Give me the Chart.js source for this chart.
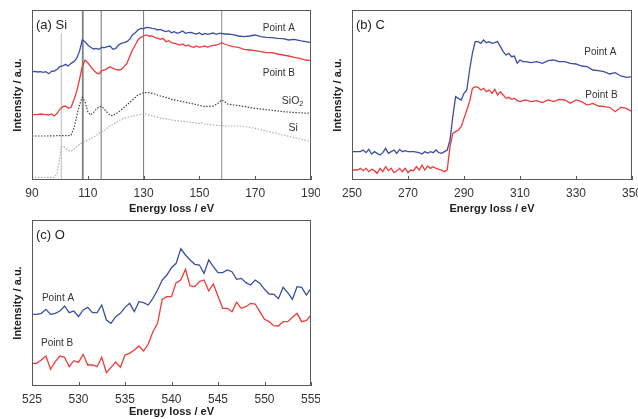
<!DOCTYPE html>
<html lang="en">
<head>
<meta charset="UTF-8">
<title>EELS spectra: Si, C, O edges</title>
<script src="https://cdn.jsdelivr.net/npm/chart.js@4"></script>
<style>
  body { margin: 0; background: #fff; overflow: hidden; }
  canvas { position: absolute; }
</style>
</head>
<body>
<canvas id="chartSi" width="320" height="220" style="left:0;top:0"></canvas>
<canvas id="chartC" width="318" height="220" style="left:320px;top:0"></canvas>
<canvas id="chartO" width="320" height="209" style="left:0;top:210px"></canvas>
<script>
// (a) Si L-edge
const siEnergyA = [90,91,92,93,94,95,96,97,98,99,100,101,102,103,104,105,106,107,108,109,110,111,112,113,114,115,116,117,118,119,120,121,122,123,124,125,126,127,128,129,130,131,132,133,134,135,136,137,138,139,140,141,142,143,144,145,146,147,148,149,150,151,152,153,154,155,156,157,158,159,160,162,164,166,168,170,172,174,176,178,180,182,184,186,188,190];
const siPointA = [325,326,324,325,323,325,319,326,327,332,340,342,347,342,350,355,365,385,420,415,405,398,393,395,392,398,397,400,402,392,395,405,410,412,415,422,435,442,450,455,454,458,457,455,454,450,452,448,445,448,442,445,440,443,447,440,442,443,440,438,442,436,440,437,439,441,437,440,440,438,438,436,432,430,432,435,430,428,427,425,424,420,422,418,415,412];
const siEnergyB = siEnergyA;
const siPointB = [197,196,196,198,197,196,195,198,192,200,212,220,222,215,218,240,265,300,340,360,352,340,330,322,318,328,330,335,340,335,332,330,332,340,350,370,390,405,420,428,432,435,432,432,428,425,422,425,415,418,412,410,408,405,408,402,405,400,398,402,398,400,402,398,402,404,405,408,412,408,405,400,398,392,390,388,385,382,382,378,375,372,368,365,360,358];
const siEnergyOx = [90,95,100,103,104,105,106,107,108,109,110,111,112,113,114,115,116,117,118,119,120,122,124,126,128,130,132,134,136,138,140,144,148,152,155,157,158,159,160,165,170,175,180,185,190];
const siO2Ref = [132,132,133,133,135,155,190,225,248,235,205,195,202,212,220,220,212,202,194,193,198,210,225,240,255,262,262,258,252,248,242,235,228,220,222,232,240,235,228,222,215,210,205,202,200];
const siEnergyEl = [90,98,99,100,100.5,101,102,103,104,105,106,108,110,112,114,116,118,120,122,124,126,128,130,132,135,140,145,150,151,152,155,160,165,170,175,180,185,190];
const siRef = [8,8,20,70,100,102,95,88,87,92,100,112,120,128,140,150,162,172,182,188,192,195,198,195,188,180,175,170,172,168,165,162,162,155,145,135,125,115];
const siMarkers = [100.5, 108.2, 114.8, 130, 158];

// (b) C K-edge
const cEnergyA = [250,253,254,255,256,257,258,259,260,261,262,263,264,265,266,267,268,269,270,272,274,275,276,277,278,279,280,281,282,283,284,285,286,287,288,289,290,291,292,293,294,295,296,297,298,299,300,301,302,303,304,305,306,307,308,309,310,311,312,314,316,318,320,322,324,326,328,330,332,334,336,338,340,342,344,346,348,350];
const cPointA = [85,85,90,82,92,78,85,80,75,82,95,80,85,90,80,92,85,88,85,85,82,78,85,80,85,82,90,82,80,85,90,120,190,250,245,240,260,270,330,380,415,415,410,420,412,415,410,412,415,400,385,375,380,370,372,350,360,355,355,352,355,350,358,360,355,355,350,348,342,340,330,328,325,318,322,312,308,310];
const cEnergyB = [250,252,253,254,255,256,257,258,259,260,261,262,263,264,265,266,267,268,269,270,271,272,273,274,275,276,277,278,279,280,281,282,283,284,285,286,287,288,289,290,291,292,293,294,295,296,297,298,299,300,301,302,303,304,305,306,307,308,309,310,311,312,314,316,318,320,322,324,326,328,330,332,334,336,338,340,342,344,346,348,350];
const cPointB = [30,30,35,28,35,25,32,28,20,35,25,40,28,35,22,28,35,25,35,22,30,28,40,30,45,30,42,35,40,35,32,30,25,30,100,140,145,150,160,185,210,235,275,280,278,270,275,265,270,260,272,255,265,255,245,248,242,245,238,235,238,240,235,238,232,240,235,242,240,230,240,235,225,230,222,220,218,205,218,215,205];

// (c) O K-edge
const oEnergy = [525,525.5,526,526.5,527,527.5,528,528.5,529,529.5,530,530.5,531,531.5,532,532.5,533,533.5,534,534.5,535,535.5,536,536.5,537,537.5,538,538.5,539,539.5,540,540.5,541,541.5,542,542.5,543,543.5,544,544.5,545,545.5,546,546.5,547,547.5,548,548.5,549,549.5,550,550.5,551,551.5,552,552.5,553,553.5,554,554.5,555];
const oPointA = [215,215,218,230,215,218,225,240,220,225,208,228,236,220,220,243,198,188,208,218,236,248,223,253,250,243,263,288,318,333,355,368,412,393,378,365,363,338,378,358,340,340,348,343,320,323,310,303,318,308,290,276,275,262,296,280,260,298,296,273,293];
const oPointB = [68,68,78,90,50,73,90,86,58,76,71,95,63,63,58,86,40,56,72,56,93,98,108,120,105,126,163,188,260,268,268,310,318,350,300,298,313,318,285,306,270,233,233,223,251,233,238,248,246,223,200,193,181,180,193,193,206,218,193,196,213];

const FONT = 'Liberation Sans, Arial, sans-serif';
const BLUE = '#3c4ea3';
const RED = '#ee3b3b';

const framePlugin = {
  id: 'frame',
  afterDatasetsDraw(chart, args, opts) {
    const { ctx, chartArea: a } = chart;
    const xs = chart.scales.x, ys = chart.scales.y;
    ctx.save();
    ctx.strokeStyle = '#5a5a5a';
    ctx.lineWidth = 1;
    ctx.strokeRect(Math.round(a.left) + 0.5, Math.round(a.top) + 0.5,
                   Math.round(a.right - a.left) - 1, Math.round(a.bottom - a.top) - 1);
    // inward tick marks
    ctx.beginPath();
    xs.ticks.forEach(t => {
      const px = Math.round(xs.getPixelForValue(t.value)) + 0.5;
      ctx.moveTo(px, a.bottom);
      ctx.lineTo(px, a.bottom - 4);
    });
    ctx.stroke();
    // panel title
    ctx.fillStyle = '#222';
    ctx.font = '13px ' + FONT;
    ctx.textBaseline = 'middle';
    ctx.textAlign = 'left';
    ctx.fillText(opts.title, a.left + 4, a.top + 15);
    // curve labels
    (opts.notes || []).forEach(n => {
      const px = xs.getPixelForValue(n.x), py = ys.getPixelForValue(n.y);
      ctx.font = n.size + 'px ' + FONT;
      ctx.fillStyle = '#333';
      if (n.sub) {
        const w1 = ctx.measureText(n.text).width;
        ctx.font = (n.size * 0.7) + 'px ' + FONT;
        const w2 = ctx.measureText(n.sub).width;
        const x0 = px - (w1 + w2) / 2;
        ctx.textAlign = 'left';
        ctx.font = n.size + 'px ' + FONT;
        ctx.fillText(n.text, x0, py);
        ctx.font = (n.size * 0.7) + 'px ' + FONT;
        ctx.fillText(n.sub, x0 + w1, py + 3);
      } else {
        ctx.textAlign = 'center';
        ctx.fillText(n.text, px, py);
      }
    });
    ctx.restore();
  }
};

function pts(xs, ys) { return xs.map((x, i) => ({ x: x, y: ys[i] })); }

function line(data, color, width, dash) {
  return { data: data, borderColor: color, borderWidth: width, borderDash: dash || [],
           pointRadius: 0, fill: false, tension: 0 };
}

function makeChart(id, cfg) {
  return new Chart(document.getElementById(id), {
    type: 'line',
    data: { datasets: cfg.datasets },
    plugins: [framePlugin],
    options: {
      responsive: false,
      animation: false,
      devicePixelRatio: 1,
      layout: { padding: cfg.padding },
      plugins: {
        legend: { display: false },
        tooltip: { enabled: false },
        frame: { title: cfg.title, notes: cfg.notes }
      },
      scales: {
        x: {
          type: 'linear', min: cfg.xMin, max: cfg.xMax,
          grid: { display: false, drawTicks: false },
          border: { display: false },
          ticks: { stepSize: cfg.step, padding: 6, color: '#333', autoSkip: false, maxRotation: 0,
                   font: { family: FONT, size: 12 } },
          title: { display: true, text: 'Energy loss / eV', color: '#222',
                   font: { family: FONT, size: 11, weight: 'bold' }, padding: { top: 0, bottom: cfg.titlePad } },
          afterFit(s) { s.height = cfg.xHeight; s.paddingLeft = 0; s.paddingRight = 0; }
        },
        y: {
          min: 0, max: cfg.yMax,
          grid: { display: false, drawTicks: false },
          border: { display: false },
          ticks: { display: false },
          title: { display: true, text: 'Intensity / a.u.', color: '#222',
                   font: { family: FONT, size: 11, weight: 'bold' }, padding: { top: 11, bottom: 0 } },
          afterFit(s) { s.width = 32; s.paddingTop = 0; s.paddingBottom = 0; }
        }
      }
    }
  });
}

// (a) Si
const markerStyle = [
  { color: '#bdbdbd', top: 440, width: 1 },
  { color: '#808080', top: 510, width: 1.8 },
  { color: '#8a8a8a', top: 510, width: 1.2 },
  { color: '#777', top: 510, width: 1 },
  { color: '#8a8a8a', top: 510, width: 1 }
];
const siSets = [
  line(pts(siEnergyA, siPointA), BLUE, 1.3),
  line(pts(siEnergyB, siPointB), RED, 1.3),
  line(pts(siEnergyOx, siO2Ref), '#444', 1.2, [1.5, 1.5]),
  line(pts(siEnergyEl, siRef), '#b0b0b0', 1.2, [1.5, 1.5])
].concat(siMarkers.map((m, i) =>
  line([{ x: m, y: 0 }, { x: m, y: markerStyle[i].top }], markerStyle[i].color, markerStyle[i].width)));

makeChart('chartSi', {
  datasets: siSets, xMin: 90, xMax: 190, step: 20, yMax: 510,
  padding: { left: 0, top: 10, right: 9, bottom: 0 }, xHeight: 40, titlePad: 4,
  title: '(a) Si',
  notes: [
    { text: 'Point A', x: 178.5, y: 455, size: 10 },
    { text: 'Point B', x: 178.5, y: 320, size: 10 },
    { text: 'SiO', sub: '2', x: 183.4, y: 238, size: 10.5 },
    { text: 'Si', x: 183.6, y: 157, size: 10.5 }
  ]
});

// (b) C
makeChart('chartC', {
  datasets: [
    line(pts(cEnergyA, cPointA), BLUE, 1.3),
    line(pts(cEnergyB, cPointB), RED, 1.3)
  ],
  xMin: 250, xMax: 350, step: 20, yMax: 510,
  padding: { left: 0, top: 10, right: 6, bottom: 0 }, xHeight: 40, titlePad: 4,
  title: '(b) C',
  notes: [
    { text: 'Point A', x: 338.7, y: 382, size: 10 },
    { text: 'Point B', x: 339.1, y: 255, size: 10 }
  ]
});

// (c) O
makeChart('chartO', {
  datasets: [
    line(pts(oEnergy, oPointA), BLUE, 1.3),
    line(pts(oEnergy, oPointB), RED, 1.3)
  ],
  xMin: 525, xMax: 555, step: 5, yMax: 498,
  padding: { left: 0, top: 10, right: 9, bottom: 0 }, xHeight: 33, titlePad: 0,
  title: '(c) O',
  notes: [
    { text: 'Point A', x: 527.8, y: 263, size: 10 },
    { text: 'Point B', x: 527.7, y: 128, size: 10 }
  ]
});
</script>
</body>
</html>
